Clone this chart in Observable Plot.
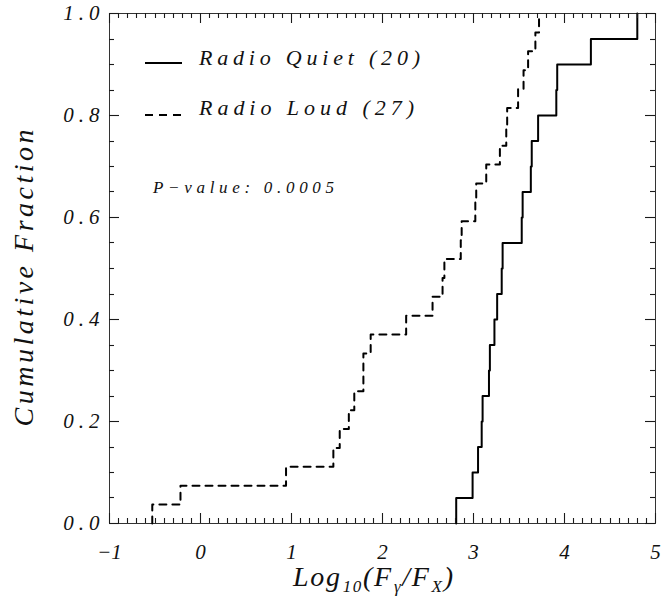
<!DOCTYPE html>
<html><head><meta charset="utf-8">
<script src="https://cdn.jsdelivr.net/npm/d3@7"></script>
<script src="https://cdn.jsdelivr.net/npm/@observablehq/plot@0.6"></script>
<style>body{margin:0;background:#fff}</style>
</head><body><div id="chart"></div>
<script>
// Step positions (log10 Fgamma/FX)
const rqX = [2.81, 2.99, 3.05, 3.09, 3.10, 3.17, 3.18, 3.23, 3.26, 3.31, 3.32, 3.53, 3.54, 3.63, 3.64, 3.71, 3.91, 3.92, 4.29, 4.80];
const rlX = [-0.53, -0.22, 0.94, 1.46, 1.53, 1.63, 1.69, 1.79, 1.79, 1.87, 2.26, 2.55, 2.66, 2.68, 2.86, 2.87, 3.02, 3.03, 3.14, 3.29, 3.36, 3.37, 3.49, 3.55, 3.60, 3.68, 3.72];
const seriesNames = ["Radio Quiet (20)", "Radio Loud (27)"];
const xTicks = [-1, 0, 1, 2, 3, 4, 5];
const xTickLabels = ["\u22121", "0", "1", "2", "3", "4", "5"];
const yTicks = [0, 0.2, 0.4, 0.6, 0.8, 1.0];
const yTickLabels = ["0.0", "0.2", "0.4", "0.6", "0.8", "1.0"];
const pValueText = "P\u2212value: 0.0005";
const yTitle = "Cumulative Fraction";

const xMinor = d3.range(-10, 51).filter(i => i % 10 !== 0).map(i => i / 10);
const yMinor = d3.range(0, 21).filter(i => i % 4 !== 0).map(i => i / 20);

function ecdf(xs, name) {
  return [{x: xs[0], f: 0, name}, ...xs.map((x, i) => ({x, f: (i + 1) / xs.length, name}))];
}
const rq = ecdf(rqX, seriesNames[0]);
const rl = ecdf(rlX, seriesNames[1]);

const W = 666, H = 598, mL = 109, mR = 11, mT = 13, mB = 75;
const fontFamily = "Liberation Serif";
const xDomain = [-1, 5], yDomain = [0, 1];

const chart = Plot.plot({
  width: W, height: H,
  marginLeft: mL, marginRight: mR, marginTop: mT, marginBottom: mB,
  x: {domain: xDomain},
  y: {domain: yDomain},
  style: {fontFamily, fontStyle: "italic", background: "white", color: "#111"},
  marks: [
    Plot.axisX(xTicks, {anchor: "bottom", tickSize: 0, tickPadding: 21, fontSize: 21, fill: "#111", label: null,
      tickFormat: d => xTickLabels[xTicks.indexOf(d)]}),
    Plot.axisY(yTicks, {anchor: "left", tickSize: 0, tickPadding: 5, fontSize: 21, fill: "#111", label: null,
      tickFormat: d => yTickLabels[yTicks.indexOf(d)]}),
    Plot.frame({stroke: "#333", strokeWidth: 1, fill: "none"}),
    Plot.line(rq, {x: "x", y: "f", curve: "step-after", stroke: "#000", strokeWidth: 2}),
    Plot.line(rl, {x: "x", y: "f", curve: "step-after", stroke: "#000", strokeWidth: 2, strokeDasharray: "7,6"})
  ]
});
document.getElementById("chart").appendChild(chart);

const svg = d3.select(chart);
svg.selectAll('g[aria-label="y-axis tick label"] text').style("letter-spacing", "5px");

// inward ticks on all four sides, placed with the chart's scales
const x0 = mL, x1 = W - mR, y0 = mT, y1 = H - mB;
let sx = null, sy = null;
try { sx = chart.scale("x"); sy = chart.scale("y"); } catch (e) {}
const fx = v => { const p = sx && sx.apply ? +sx.apply(v) : NaN; return isFinite(p) ? p : x0 + (v - xDomain[0]) / (xDomain[1] - xDomain[0]) * (x1 - x0); };
const fy = v => { const p = sy && sy.apply ? +sy.apply(v) : NaN; return isFinite(p) ? p : y1 - (v - yDomain[0]) / (yDomain[1] - yDomain[0]) * (y1 - y0); };
const tg = svg.append("g");
const tick = (a, b, c, d) => tg.append("line").attr("x1", a).attr("y1", b).attr("x2", c).attr("y2", d)
  .attr("stroke", "#1a1a1a").attr("stroke-width", 1.1);
[[xMinor, 5], [xTicks, 10]].forEach(([t, len]) => t.forEach(v => {
  const px = Math.round(fx(v)) + 0.5;
  tick(px, y1, px, y1 - len);
  tick(px, y0, px, y0 + len);
}));
[[yMinor, 5], [yTicks, 10]].forEach(([t, len]) => t.forEach(v => {
  const py = Math.round(fy(v)) + 0.5;
  tick(x0, py, x0 + len, py);
  tick(x1, py, x1 - len, py);
}));

const g = svg.append("g")
  .attr("font-family", fontFamily).attr("font-style", "italic").attr("fill", "#111")
  .attr("text-anchor", "start");

// legend
g.append("line").attr("x1", 145).attr("x2", 182).attr("y1", 63).attr("y2", 63)
  .attr("stroke", "#000").attr("stroke-width", 2);
g.append("line").attr("x1", 145).attr("x2", 183).attr("y1", 115).attr("y2", 115)
  .attr("stroke", "#000").attr("stroke-width", 2).attr("stroke-dasharray", "8,6");
g.append("text").attr("x", 199).attr("y", 65).attr("font-size", 22)
  .attr("textLength", 221).attr("lengthAdjust", "spacing").text(seriesNames[0]);
g.append("text").attr("x", 199).attr("y", 115).attr("font-size", 22)
  .attr("textLength", 215).attr("lengthAdjust", "spacing").text(seriesNames[1]);
g.append("text").attr("x", 153).attr("y", 193).attr("font-size", 17)
  .attr("textLength", 181).attr("lengthAdjust", "spacing").text(pValueText);

// y title
g.append("text").attr("transform", "translate(33,278) rotate(-90)").attr("text-anchor", "middle")
  .attr("font-size", 28).attr("textLength", 297).attr("lengthAdjust", "spacing").text(yTitle);

// x title with subscripts
const xt = g.append("text").attr("x", 293).attr("y", 586).attr("font-size", 28)
  .attr("textLength", 160).attr("lengthAdjust", "spacing");
const parts = [["Log", 0], ["10", 1], ["(F", 0], ["\u03B3", 1], ["/F", 0], ["X", 1], [")", 0]];
parts.forEach(([t, sub], i) => {
  const ts = xt.append("tspan").text(t);
  if (sub) ts.attr("font-size", 17).attr("dy", 6).attr("dx", 1);
  else if (i > 0) ts.attr("dy", -6);
});
</script>
</body></html>
